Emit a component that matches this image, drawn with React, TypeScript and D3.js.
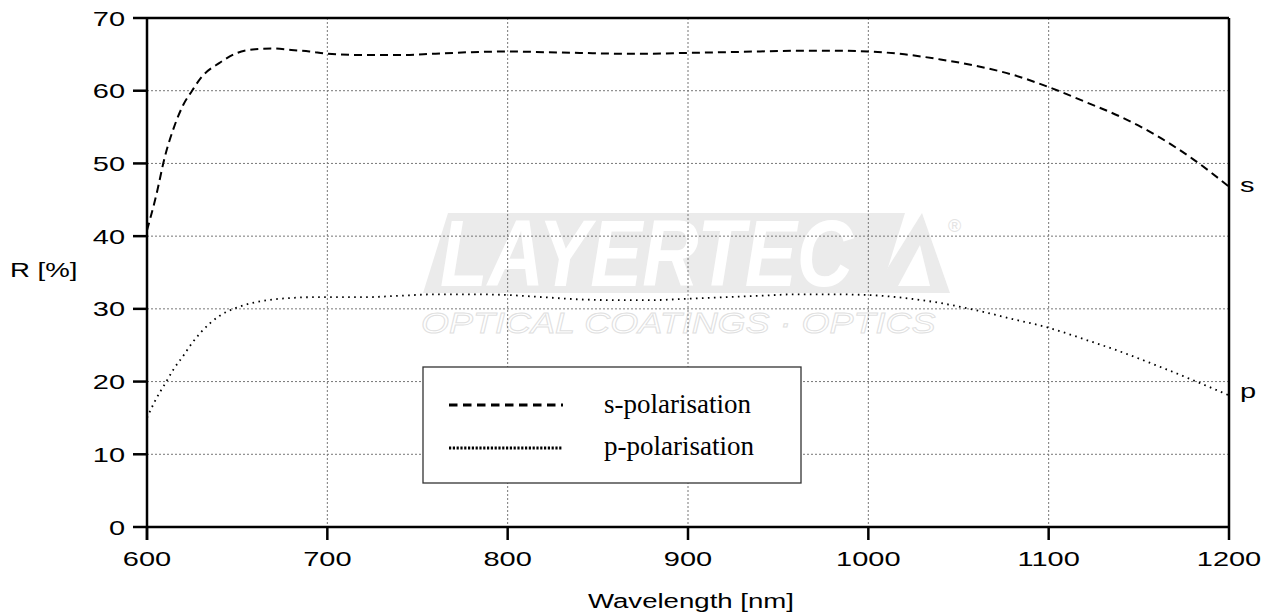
import * as d3 from "d3";

const wavelengths = [600, 605, 610, 615, 620, 625, 630, 640, 650, 660, 670, 680, 690, 700, 720, 740, 760, 780, 800, 820, 840, 860, 880, 900, 920, 940, 960, 980, 1000, 1020, 1040, 1060, 1080, 1100, 1120, 1140, 1160, 1180, 1200];
const sPol = [40.8, 45.5, 51, 55, 58, 60, 61.8, 63.8, 65.2, 65.7, 65.8, 65.6, 65.4, 65.1, 64.9, 64.9, 65.1, 65.3, 65.4, 65.3, 65.2, 65.1, 65.1, 65.2, 65.3, 65.4, 65.5, 65.5, 65.4, 65.0, 64.3, 63.4, 62.2, 60.5, 58.5, 56.4, 53.8, 50.6, 46.8];
const pPol = [15, 17.6, 19.7, 21.8, 23.5, 25.3, 26.8, 29, 30.2, 30.9, 31.3, 31.5, 31.6, 31.6, 31.6, 31.8, 32.0, 32.0, 31.9, 31.6, 31.3, 31.2, 31.2, 31.4, 31.6, 31.8, 32.0, 32.0, 31.9, 31.5, 30.8, 29.8, 28.6, 27.4, 25.8, 24.1, 22.2, 20.2, 18.1];
const xTicks = [600, 700, 800, 900, 1000, 1100, 1200];
const yTicks = [0, 10, 20, 30, 40, 50, 60, 70];
const legendLabels = ["s-polarisation", "p-polarisation"];

const SANS = "'Liberation Sans', Arial, sans-serif";
const SERIF = "'Liberation Serif', 'Times New Roman', serif";

// wide sans labels, like the original's extended font
const Wide = ({ x, y, anchor, children, size = 21 }: any) => {
  return (
    <g transform={`translate(${x},${y}) scale(1.38,1)`}>
      <text x={0} y={0} textAnchor={anchor} fontFamily={SANS} fontSize={size} fill="#000">
        {children}
      </text>
    </g>
  );
};

export default function App() {
  const x = d3.scaleLinear().domain([600, 1200]).range([147, 1229]);
  const y = d3.scaleLinear().domain([0, 70]).range([527, 18]);

  const line = d3
    .line<number>()
    .x((_, i) => x(wavelengths[i]))
    .y((d) => y(d))
    .curve(d3.curveMonotoneX);

  const left = x(600);
  const right = x(1200);
  const top = y(70);
  const bottom = y(0);

  return (
    <svg width={1274} height={616} style={{ position: "absolute", left: 0, top: 0, background: "#fff" }}>
      {/* watermark */}
      <g>
        <polygon points="423,293 448,213 905,213 880,293" fill="#ebebeb" />
        <g transform="translate(440,286) scale(1,1.22)">
          <text x={0} y={0} fontFamily={SANS} fontWeight="bold" fontStyle="italic" fontSize={78} fill="#fff">
            LAYERTEC
          </text>
        </g>
        <polygon points="872,293 922,213 950,293" fill="#ebebeb" />
        <polygon points="898,286 920,245 930,286" fill="#fff" />
        <text x={948} y={232} fontFamily={SANS} fontSize={18} fill="#e4e4e4">®</text>
        <g transform="translate(421,333) scale(1.2,1)">
          <text
            x={0}
            y={0}
            fontFamily={SANS}
            fontStyle="italic"
            fontSize={30}
            fill="none"
            stroke="#e0e0e0"
            strokeWidth={0.9}
          >
            OPTICAL COATINGS · OPTICS
          </text>
        </g>
      </g>

      {/* grid */}
      {xTicks.slice(1, -1).map((t) => (
        <line key={"gx" + t} x1={x(t)} x2={x(t)} y1={top} y2={bottom} stroke="#777" strokeWidth={1} strokeDasharray="2,2" />
      ))}
      {yTicks.slice(1, -1).map((t) => (
        <line key={"gy" + t} x1={left} x2={right} y1={y(t)} y2={y(t)} stroke="#777" strokeWidth={1} strokeDasharray="2,2" />
      ))}

      {/* frame */}
      <line x1={left} x2={right} y1={top} y2={top} stroke="#000" strokeWidth={2.5} />
      <line x1={right} x2={right} y1={top} y2={bottom} stroke="#000" strokeWidth={2.5} />
      <line x1={left} x2={left} y1={top} y2={bottom + 13} stroke="#000" strokeWidth={2.5} />
      <line x1={left} x2={right} y1={bottom} y2={bottom} stroke="#000" strokeWidth={2.5} />

      {/* ticks */}
      {yTicks.map((t) => (
        <g key={"ty" + t}>
          <line x1={left - 14} x2={left} y1={y(t)} y2={y(t)} stroke="#000" strokeWidth={2.5} />
          <Wide x={125} y={y(t) + 7.5} anchor="end">{t}</Wide>
        </g>
      ))}
      {xTicks.map((t) => (
        <g key={"tx" + t}>
          <line x1={x(t)} x2={x(t)} y1={bottom} y2={bottom + 13} stroke="#000" strokeWidth={2.5} />
          <Wide x={x(t)} y={566} anchor="middle">{t}</Wide>
        </g>
      ))}

      {/* axis titles */}
      <Wide x={10} y={277} anchor="start" size={20}>R [%]</Wide>
      <Wide x={691} y={608} anchor="middle" size={20}>Wavelength [nm]</Wide>

      {/* curves */}
      <path d={line(sPol) || ""} fill="none" stroke="#000" strokeWidth={2} strokeDasharray="8,5" />
      <path d={line(pPol) || ""} fill="none" stroke="#000" strokeWidth={1.8} strokeDasharray="1.6,4.4" />

      <Wide x={1240} y={192} anchor="start">s</Wide>
      <Wide x={1240} y={398} anchor="start">p</Wide>

      {/* legend */}
      <rect x={423} y={367} width={378} height={116} fill="#fff" stroke="#333" strokeWidth={1.3} />
      <line x1={449} x2={563} y1={405} y2={405} stroke="#000" strokeWidth={3} strokeDasharray="8.5,5.5" />
      <line x1={449} x2={563} y1={448} y2={448} stroke="#000" strokeWidth={3} strokeDasharray="2.2,1.6" />
      {legendLabels.map((l, i) => (
        <text key={l} x={604} y={413 + i * 42} fontFamily={SERIF} fontSize={27} fill="#000">
          {l}
        </text>
      ))}
    </svg>
  );
}
